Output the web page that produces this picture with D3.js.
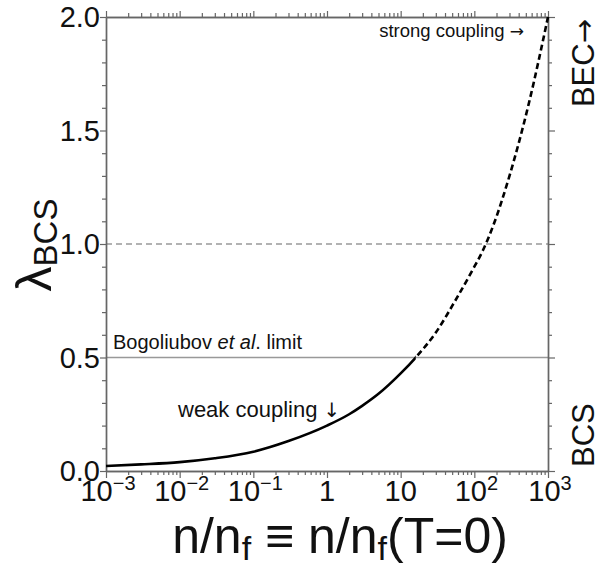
<!DOCTYPE html>
<html>
<head>
<meta charset="utf-8">
<script src="https://cdn.jsdelivr.net/npm/d3@7"></script>
<style>
  html, body { margin: 0; padding: 0; background: #fff; }
  svg { display: block; font-family: "Liberation Sans", Arial, sans-serif; }
</style>
</head>
<body>
<svg id="chart" width="597" height="566"></svg>
<script>
// ---- data ----
const densityRatio = [0.001, 0.003, 0.01, 0.03, 0.1, 0.3, 1, 2, 3, 5, 10, 16, 30, 55, 100, 130, 180, 300, 550, 1000];
const lambdaBCS    = [0.022, 0.029, 0.039, 0.056, 0.085, 0.132, 0.2, 0.25, 0.287, 0.34, 0.43, 0.5, 0.61, 0.75, 0.90, 0.97, 1.08, 1.30, 1.62, 2.0];
const solidLimit = 16;              // solid curve up to here, dashed beyond
const bogoliubovLimit = 0.5;
const unityCoupling = 1.0;
const xTickValues = [1e-3, 1e-2, 1e-1, 1, 10, 100, 1000];
const xTickBase = ["10", "10", "10", "1", "10", "10", "10"];
const xTickExp  = ["\u22123", "\u22122", "\u22121", "", "", "2", "3"];
const yTickLabels = ["0.0", "0.5", "1.0", "1.5", "2.0"];
const yMajorValues = [0, 0.5, 1.0, 1.5, 2.0];

const svg = d3.select("#chart");
const X0 = 106, X1 = 548, Y0 = 471, Y1 = 17;
const x = d3.scaleLog().domain([1e-3, 1e3]).range([X0, X1]);
const y = d3.scaleLinear().domain([0, 2]).range([Y0, Y1]);

const axisColor = "#666";
const minorX = [];
for (let e = -3; e < 3; e++) for (let m = 2; m <= 9; m++) minorX.push(m * Math.pow(10, e));
const yAll = d3.range(0, 21).map(i => i / 10);
const yMinor = yAll.filter(v => Math.abs(v * 2 - Math.round(v * 2)) > 1e-6);

function styleAxis(g) {
  g.selectAll("path.domain").attr("stroke", axisColor).attr("stroke-width", 1.4);
  g.selectAll(".tick line").attr("stroke", axisColor).attr("stroke-width", 1.2);
  g.selectAll(".tick text").remove();
}

// reference lines
svg.append("line").attr("x1", X0).attr("x2", X1)
  .attr("y1", y(unityCoupling)).attr("y2", y(unityCoupling))
  .attr("stroke", "#999").attr("stroke-width", 1.5).attr("stroke-dasharray", "6,4");
svg.append("line").attr("x1", X0).attr("x2", X1)
  .attr("y1", y(bogoliubovLimit)).attr("y2", y(bogoliubovLimit))
  .attr("stroke", "#999").attr("stroke-width", 1.5);

// axes: bottom
svg.append("g").attr("transform", `translate(0,${Y0})`)
  .call(d3.axisBottom(x).tickValues(minorX).tickSize(4).tickSizeOuter(0).tickFormat(""))
  .call(styleAxis);
svg.append("g").attr("transform", `translate(0,${Y0})`)
  .call(d3.axisBottom(x).tickValues(xTickValues).tickSize(7).tickSizeOuter(0).tickFormat(""))
  .call(styleAxis);
// top
svg.append("g").attr("transform", `translate(0,${Y1})`)
  .call(d3.axisTop(x).tickValues(minorX).tickSize(4).tickSizeOuter(0).tickFormat(""))
  .call(styleAxis);
svg.append("g").attr("transform", `translate(0,${Y1})`)
  .call(d3.axisTop(x).tickValues(xTickValues).tickSize(6).tickSizeOuter(0).tickFormat(""))
  .call(styleAxis);
// left
svg.append("g").attr("transform", `translate(${X0},0)`)
  .call(d3.axisLeft(y).tickValues(yMinor).tickSize(4).tickSizeOuter(0).tickFormat(""))
  .call(styleAxis);
svg.append("g").attr("transform", `translate(${X0},0)`)
  .call(d3.axisLeft(y).tickValues(yMajorValues).tickSize(6).tickSizeOuter(0).tickFormat(""))
  .call(styleAxis);
// right
svg.append("g").attr("transform", `translate(${X1},0)`)
  .call(d3.axisRight(y).tickValues(yMinor).tickSize(4).tickSizeOuter(0).tickFormat(""))
  .call(styleAxis);
svg.append("g").attr("transform", `translate(${X1},0)`)
  .call(d3.axisRight(y).tickValues(yMajorValues).tickSize(7).tickSizeOuter(0).tickFormat(""))
  .call(styleAxis);

// tick labels
const xl = svg.append("g").attr("font-size", 29).attr("fill", "#111");
xTickValues.forEach((v, i) => {
  const t = xl.append("text").attr("x", x(v) + (xTickExp[i] ? 2 : 0)).attr("y", 501)
    .attr("text-anchor", "middle");
  t.append("tspan").text(xTickBase[i]);
  if (xTickExp[i]) t.append("tspan").attr("font-size", 20).attr("dy", -11).text(xTickExp[i]);
});
const yl = svg.append("g").attr("font-size", 29).attr("fill", "#111");
yMajorValues.forEach((v, i) => {
  yl.append("text").attr("x", 100).attr("y", y(v) + 10).attr("text-anchor", "end").text(yTickLabels[i]);
});

// curve
const data = densityRatio.map((n, i) => ({ n, l: lambdaBCS[i] }));
const line = d3.line().x(d => x(d.n)).y(d => y(d.l)).curve(d3.curveMonotoneX);
const defs = svg.append("defs");
defs.append("clipPath").attr("id", "clipSolid").append("rect")
  .attr("x", 0).attr("y", 0).attr("width", x(solidLimit)).attr("height", 566);
defs.append("clipPath").attr("id", "clipDash").append("rect")
  .attr("x", x(solidLimit)).attr("y", 0).attr("width", 597).attr("height", 566);
svg.append("path").datum(data).attr("d", line).attr("fill", "none")
  .attr("stroke", "#000").attr("stroke-width", 2.6).attr("clip-path", "url(#clipSolid)");
svg.append("path").datum(data).attr("d", line).attr("fill", "none")
  .attr("stroke", "#000").attr("stroke-width", 2.6).attr("stroke-dasharray", "6,3.5")
  .attr("clip-path", "url(#clipDash)");

// annotations
const bog = svg.append("text").attr("x", 113).attr("y", 349).attr("font-size", 20).attr("fill", "#111");
bog.append("tspan").text("Bogoliubov ");
bog.append("tspan").attr("font-style", "italic").text("et al");
bog.append("tspan").text(". limit");
const wk = svg.append("text").attr("x", 178).attr("y", 417).attr("font-size", 22).attr("fill", "#111");
wk.append("tspan").text("weak coupling ");
wk.append("tspan").attr("font-family", "DejaVu Sans").attr("font-size", 20).text("\u2193");
const st = svg.append("text").attr("x", 524).attr("y", 37).attr("font-size", 18.5).attr("fill", "#111")
  .attr("text-anchor", "end");
st.append("tspan").text("strong coupling ");
st.append("tspan").attr("font-family", "DejaVu Sans").attr("font-size", 17).text("\u2192");

// right side regime labels
const bec = svg.append("text").attr("transform", "translate(594,19) rotate(-90)")
  .attr("text-anchor", "end").attr("font-size", 31).attr("fill", "#111");
bec.append("tspan").text("BEC");
bec.append("tspan").attr("font-family", "DejaVu Sans").attr("font-size", 29).text("\u2192");
svg.append("text").attr("transform", "translate(594,467) rotate(-90)")
  .attr("text-anchor", "start").attr("font-size", 31).attr("fill", "#111").text("BCS");

// axis titles
const yt = svg.append("text").attr("transform", "translate(51,245) rotate(-90)")
  .attr("text-anchor", "middle").attr("fill", "#111");
yt.append("tspan").attr("font-size", 50).text("\u03bb");
yt.append("tspan").attr("font-size", 33).attr("dy", 6).text("BCS");

const xt = svg.append("text").attr("x", 340).attr("y", 553).attr("text-anchor", "middle")
  .attr("font-size", 50).attr("fill", "#111");
xt.append("tspan").text("n/n");
xt.append("tspan").attr("font-size", 34).attr("dy", 7).text("f");
xt.append("tspan").attr("dy", -7).text(" \u2261 n/n");
xt.append("tspan").attr("font-size", 34).attr("dy", 7).text("f");
xt.append("tspan").attr("dy", -7).text("(T=0)");
</script>
</body>
</html>
